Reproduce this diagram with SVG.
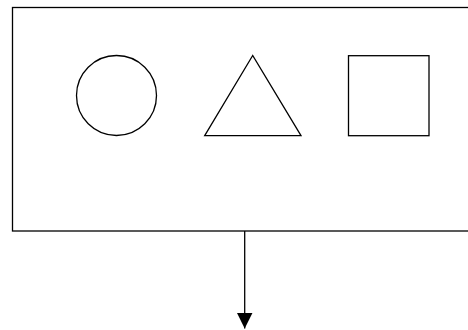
<svg xmlns="http://www.w3.org/2000/svg" width="468" height="330" viewBox="0 0 468 330">
<style>
.s{fill:#fff;stroke:#000;stroke-width:1.3}
</style>
<defs>
<marker id="ah" markerUnits="userSpaceOnUse" markerWidth="16" markerHeight="16" refX="16" refY="8" orient="auto">
<path d="M0,0 L16,8 L0,16 Z" fill="#000"/>
</marker>
</defs>
<rect width="468" height="330" fill="#fff"/>
<g id="container"><rect class="s" x="12.5" y="7.5" width="470" height="223.5"/></g>
<g id="circle"><circle class="s" cx="116.5" cy="95.5" r="40"/></g>
<g id="triangle"><polygon class="s" points="252.7,55.5 204.7,135.7 301,135.7"/></g>
<g id="square"><rect class="s" x="348.5" y="55.7" width="80.5" height="80"/></g>
<g id="connectors"><line x1="244.7" y1="231" x2="244.7" y2="328.5" stroke="#000" stroke-width="1.3" marker-end="url(#ah)"/></g>
</svg>
